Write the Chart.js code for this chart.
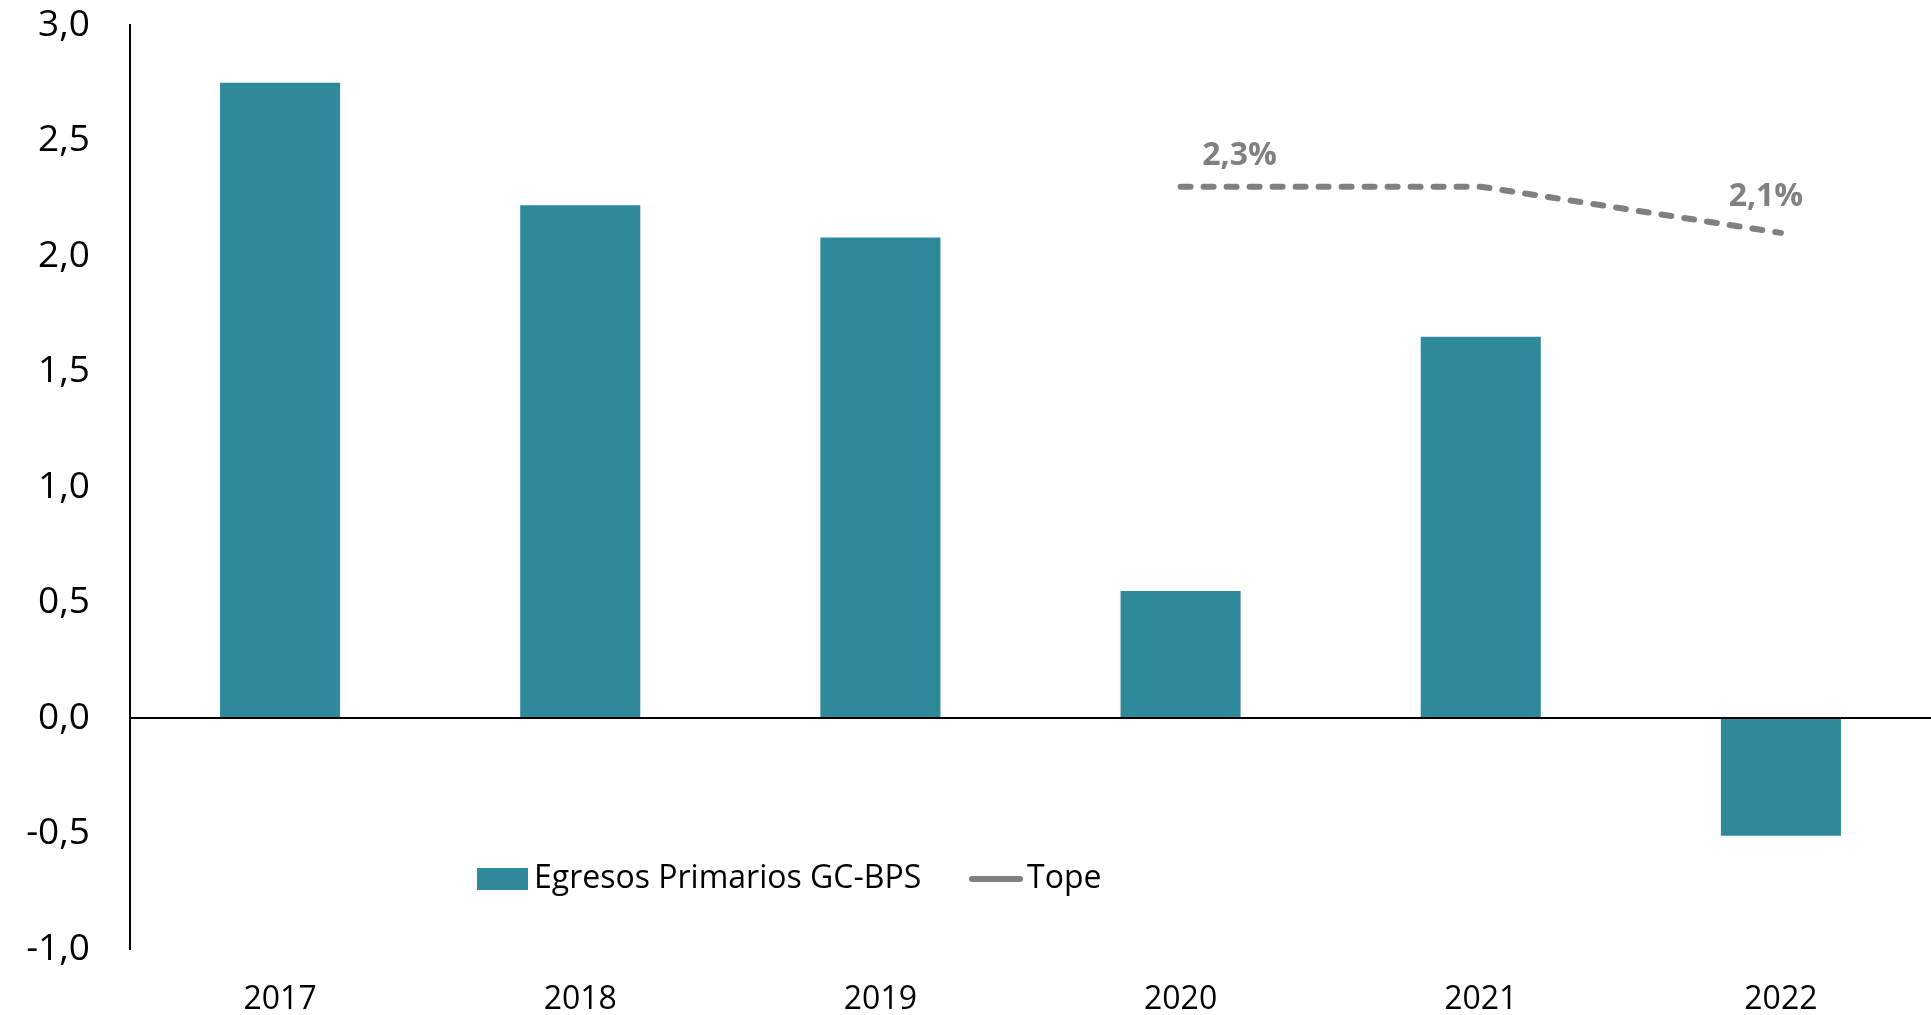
<!DOCTYPE html>
<html>
<head>
<meta charset="utf-8">
<script src="https://cdn.jsdelivr.net/npm/chart.js@4.4.1/dist/chart.umd.min.js"></script>
<style>
    html, body { margin: 0; padding: 0; background: #fff; }
    #wrap { width: 1931px; height: 1015px; position: relative; }
</style>
</head>
<body>
<div id="wrap"><canvas id="egresosChart"></canvas></div>
<script>
const years = ['2017', '2018', '2019', '2020', '2021', '2022'];
const egresos = [2.75, 2.22, 2.08, 0.55, 1.65, -0.51];
const tope = [null, null, null, 2.3, 2.3, 2.1];
const yTicks = [-1, -0.5, 0, 0.5, 1, 1.5, 2, 2.5, 3];

const barColor = '#2E899B';
const lineColor = '#808080';
const fontFamily = '"Open Sans", "Noto Sans", sans-serif';

function fmt(v) {
    return v.toFixed(1).replace('.', ',');
}

// labels over first and last Tope point
const topeLabels = {
    id: 'topeLabels',
    afterDatasetsDraw(chart) {
        const meta = chart.getDatasetMeta(1);
        const ctx = chart.ctx;
        ctx.save();
        ctx.font = 'bold 32px ' + fontFamily;
        ctx.fillStyle = lineColor;
        ctx.textAlign = 'center';
        ctx.textBaseline = 'middle';
        const first = tope.findIndex(v => v !== null);
        const last = tope.length - 1;
        const p1 = meta.data[first];
        const p2 = meta.data[last];
        ctx.fillText(fmt(tope[first]) + '%', p1.x + 59, p1.y - 31);
        ctx.fillText(fmt(tope[last]) + '%', p2.x - 15, p2.y - 36);
        ctx.restore();
    }
};

// legend drawn inside the plot, like the original
const innerLegend = {
    id: 'innerLegend',
    afterDraw(chart) {
        const ctx = chart.ctx;
        const ds = chart.data.datasets;
        const y = 879;
        ctx.save();
        ctx.font = '32px ' + fontFamily;
        ctx.textBaseline = 'middle';
        ctx.fillStyle = barColor;
        ctx.fillRect(477, y - 11, 51, 22);
        ctx.fillStyle = '#000';
        ctx.fillText(ds[0].label, 534, y);

        ctx.strokeStyle = lineColor;
        ctx.lineWidth = 6;
        ctx.lineCap = 'round';
        ctx.beginPath();
        ctx.moveTo(972, y);
        ctx.lineTo(1020, y);
        ctx.stroke();
        ctx.fillStyle = '#000';
        ctx.fillText(ds[1].label, 1027, y);
        ctx.restore();
    }
};

const ctx = document.getElementById('egresosChart').getContext('2d');

new Chart(ctx, {
    data: {
        labels: years,
        datasets: [
            {
                type: 'bar',
                label: 'Egresos Primarios GC-BPS',
                data: egresos,
                backgroundColor: barColor,
                barPercentage: 0.4,
                categoryPercentage: 1.0,
                order: 2
            },
            {
                type: 'line',
                label: 'Tope',
                data: tope,
                borderColor: lineColor,
                borderWidth: 6,
                borderDash: [10, 13],
                borderCapStyle: 'round',
                borderJoinStyle: 'round',
                tension: 0,
                pointRadius: 0,
                pointHoverRadius: 0,
                spanGaps: false,
                order: 1
            }
        ]
    },
    options: {
        responsive: true,
        maintainAspectRatio: false,
        animation: false,
        devicePixelRatio: 1,
        layout: {
            autoPadding: false,
            padding: { left: 0, right: 0, top: 25, bottom: 0 }
        },
        plugins: {
            legend: { display: false },
            tooltip: { enabled: false }
        },
        scales: {
            x: {
                grid: { display: false, drawTicks: false },
                border: { display: false },
                afterFit(scale) {
                    scale.height = 66;
                },
                ticks: {
                    color: '#000',
                    padding: 32,
                    font: { family: fontFamily, size: 32 }
                }
            },
            y: {
                min: -1,
                max: 3,
                afterBuildTicks(scale) {
                    scale.ticks = yTicks.map(v => ({ value: v }));
                },
                afterFit(scale) {
                    scale.width = 130;
                    scale.paddingTop = 0;
                    scale.paddingBottom = 0;
                },
                grid: {
                    drawTicks: false,
                    color: c => (c.tick && c.tick.value === 0 ? '#000' : 'transparent'),
                    lineWidth: 2
                },
                border: { display: true, color: '#000', width: 2 },
                ticks: {
                    color: '#000',
                    padding: 40,
                    font: { family: fontFamily, size: 37 },
                    callback: v => fmt(v)
                }
            }
        }
    },
    plugins: [topeLabels, innerLegend]
});
</script>
</body>
</html>
